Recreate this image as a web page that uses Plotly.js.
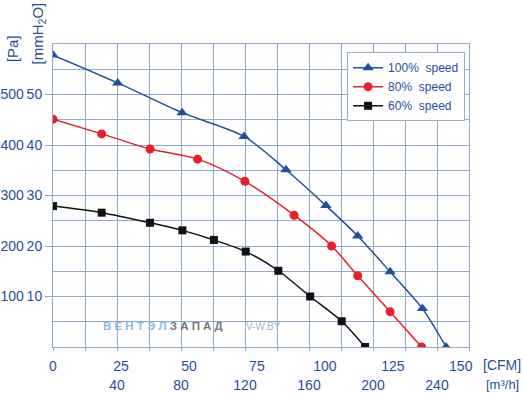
<!DOCTYPE html>
<html>
<head>
<meta charset="utf-8">
<script src="https://cdn.plot.ly/plotly-3.0.1.min.js"></script>
<style>html,body{margin:0;padding:0;background:#fff;}#chart{width:523px;height:393px;}</style>
</head>
<body>
<div id="chart"></div>
<script>
// Airflow in CFM, pressure in Pa
const flow100 = [0, 23.8, 47.5, 70.3, 85.7, 100.4, 112.1, 124, 135.9, 144.6];
const pres100 = [578, 523, 464, 417, 351, 280, 220, 149, 76, 0];
const flow80 = [0, 17.9, 35.7, 53.2, 70.6, 88.7, 102.5, 112.1, 124, 135.6];
const pres80 = [451, 422, 392, 372, 328, 261, 200, 141, 70, 0];
const flow60 = [0, 17.9, 35.7, 47.6, 59.2, 70.9, 82.9, 94.6, 106.2, 114.8];
const pres60 = [279, 266, 246, 231, 212, 189, 151, 100, 51, 0];
const seriesNames = ["100%\u00a0 speed", "80%\u00a0 speed", "60%\u00a0 speed"];

const cfmTicks = [0, 25, 50, 75, 100, 125, 150];
const m3hTicks = [40, 80, 120, 160, 200, 240];
const m3hGrid = [0,20,60,100,140,180,220,260];
const paTicks = [100, 200, 300, 400, 500];
const paLabels = ["100\u200910", "200\u200920", "300\u200930", "400\u200940", "500\u200950"];
const paMinor = [50, 150, 250, 350, 450, 550];

const CFM_TO_M3H = 1.699;
const gridColor = '#8fa8cc';
const textBlue = '#1f4f9e';
const font = 'Liberation Sans, Arial, sans-serif';

function tr(x, y, name, color, symbol, size) {
  return {x: x, y: y, name: name, type: 'scatter', mode: 'lines+markers', xaxis: 'x', yaxis: 'y',
    line: {color: color, width: 1.5, shape: 'spline', smoothing: 0.8},
    marker: {color: color, symbol: symbol, size: size}};
}
const data = [
  tr(flow100, pres100, seriesNames[0], '#2150a0', 'triangle-up', 10),
  tr(flow80, pres80, seriesNames[1], '#e8202a', 'circle', 9),
  tr(flow60, pres60, seriesNames[2], '#111111', 'square', 8),
  {x: [0, 260], y: [0, 0], xaxis: 'x2', yaxis: 'y', mode: 'none', type: 'scatter', showlegend: false, hoverinfo: 'skip'}
];

const layout = {
  width: 523, height: 393,
  margin: {l: 53, r: 54, t: 44, b: 46},
  paper_bgcolor: '#fff', plot_bgcolor: '#fff',
  font: {family: font, size: 14, color: textBlue},
  showlegend: true,
  legend: {x: 0.707, y: 0.973, xanchor: 'left', yanchor: 'top', bgcolor: '#fff',
    bordercolor: '#9aaccb', borderwidth: 1, font: {size: 12, color: textBlue, family: font},
    tracegroupgap: 0, itemwidth: 30},
  xaxis: {range: [0, 260 / CFM_TO_M3H], tickvals: cfmTicks, ticks: '', showgrid: false,
    zeroline: false, showline: true, linecolor: gridColor, mirror: true, ticklabelstandoff: 6,
    tickfont: {size: 14, color: textBlue}, fixedrange: true},
  xaxis2: {overlaying: 'x', side: 'bottom', anchor: 'y', range: [0, 260], tickvals: m3hTicks,
    ticks: 'outside', ticklen: 3, tickcolor: gridColor, showgrid: true, gridcolor: gridColor, gridwidth: 1,
    zeroline: false, showline: false, ticklabelstandoff: 22, tickfont: {size: 14, color: textBlue},
    minor: {tickvals: m3hGrid, showgrid: true, gridcolor: gridColor, ticks: 'outside', ticklen: 3, tickcolor: gridColor}},
  yaxis: {range: [0, 600], tickvals: paTicks, ticktext: paLabels, ticks: 'outside', ticklen: 7,
    tickcolor: gridColor, showgrid: true, gridcolor: gridColor, zeroline: false, showline: true,
    linecolor: gridColor, mirror: true, tickfont: {size: 14, color: textBlue},
    minor: {tickvals: paMinor, showgrid: true, gridcolor: gridColor, ticks: ''}},
  annotations: [
    {text: '[Pa]', xref: 'paper', yref: 'paper', x: -0.099, y: 0.986, textangle: -90, showarrow: false,
      xanchor: 'center', yanchor: 'middle', font: {size: 15, color: textBlue}},
    {text: '[mmH<sub>2</sub>O]', xref: 'paper', yref: 'paper', x: -0.036, y: 1.035, textangle: -90, showarrow: false,
      xanchor: 'center', yanchor: 'middle', font: {size: 15, color: textBlue}},
    {text: '[CFM]', xref: 'paper', yref: 'paper', x: 1.0, y: -0.06, showarrow: false, xanchor: 'left', yanchor: 'middle',
      xshift: 12, font: {size: 14, color: textBlue}},
    {text: '[m³/h]', xref: 'paper', yref: 'paper', x: 1.0, y: -0.125, showarrow: false, xanchor: 'left', yanchor: 'middle',
      xshift: 15, font: {size: 13, color: textBlue}},
    {text: '<b><span style="color:#86bde6">В Е Н Т Э Л</span> <span style="color:#777">З А П А Д</span></b>',
      xref: 'paper', yref: 'paper', x: 0.116, y: 0.068, xanchor: 'left', yanchor: 'middle', showarrow: false,
      font: {size: 11.5, family: font}},
    {text: '<span style="color:#9fb6cc">V-W.BY</span>', xref: 'paper', yref: 'paper', x: 0.46, y: 0.068,
      xanchor: 'left', yanchor: 'middle', showarrow: false, font: {size: 10, family: font}}
  ]
};

Plotly.newPlot('chart', data, layout, {staticPlot: true, displayModeBar: false});
</script>
</body>
</html>
